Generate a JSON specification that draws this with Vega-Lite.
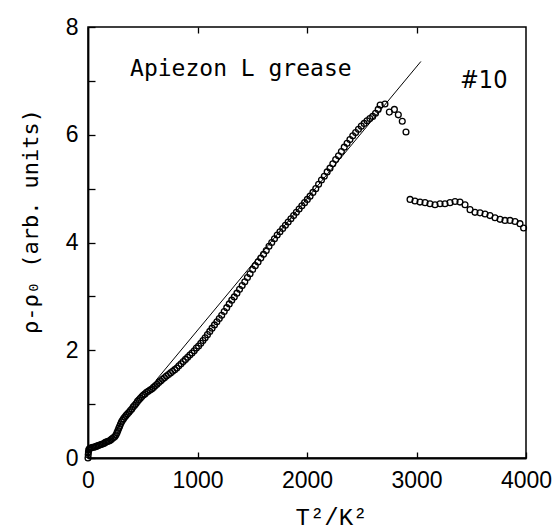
{
  "$schema": "https://vega.github.io/schema/vega-lite/v6.json",
  "width": 438,
  "height": 431,
  "autosize": {"type": "none"},
  "padding": {"left": 88, "top": 27, "right": 27, "bottom": 74},
  "background": "white",
  "config": {
    "view": {"stroke": "black", "strokeWidth": 1.5},
    "axis": {
      "domainColor": "black", "domainWidth": 1.8, "tickColor": "black", "tickWidth": 1.3,
      "labelColor": "black", "titleColor": "black", "grid": false,
      "labelFont": "Liberation Sans", "labelFontSize": 23
    }
  },
  "datasets": {
    "main": [
      {"T2": 0, "R": 0.0}, {"T2": 2, "R": 0.06}, {"T2": 4, "R": 0.11}, {"T2": 7, "R": 0.15}, {"T2": 12, "R": 0.17},
      {"T2": 20, "R": 0.18}, {"T2": 30, "R": 0.19}, {"T2": 42, "R": 0.2}, {"T2": 55, "R": 0.2}, {"T2": 68, "R": 0.21},
      {"T2": 80, "R": 0.22}, {"T2": 93, "R": 0.23}, {"T2": 106, "R": 0.24}, {"T2": 119, "R": 0.25}, {"T2": 132, "R": 0.26},
      {"T2": 145, "R": 0.27}, {"T2": 158, "R": 0.29}, {"T2": 171, "R": 0.3}, {"T2": 184, "R": 0.31}, {"T2": 197, "R": 0.32},
      {"T2": 210, "R": 0.34}, {"T2": 222, "R": 0.36}, {"T2": 234, "R": 0.38}, {"T2": 246, "R": 0.4}, {"T2": 256, "R": 0.43},
      {"T2": 265, "R": 0.47}, {"T2": 273, "R": 0.51}, {"T2": 281, "R": 0.55}, {"T2": 289, "R": 0.59}, {"T2": 297, "R": 0.63},
      {"T2": 306, "R": 0.67}, {"T2": 315, "R": 0.7}, {"T2": 325, "R": 0.73}, {"T2": 336, "R": 0.76}, {"T2": 348, "R": 0.79},
      {"T2": 361, "R": 0.82}, {"T2": 374, "R": 0.85}, {"T2": 387, "R": 0.88}, {"T2": 400, "R": 0.91}, {"T2": 413, "R": 0.95},
      {"T2": 426, "R": 0.98}, {"T2": 439, "R": 1.01}, {"T2": 452, "R": 1.05}, {"T2": 465, "R": 1.08}, {"T2": 478, "R": 1.11},
      {"T2": 492, "R": 1.14}, {"T2": 506, "R": 1.17}, {"T2": 520, "R": 1.19}, {"T2": 535, "R": 1.22}, {"T2": 550, "R": 1.24},
      {"T2": 566, "R": 1.26}, {"T2": 582, "R": 1.28}, {"T2": 598, "R": 1.31}, {"T2": 614, "R": 1.34}, {"T2": 630, "R": 1.37},
      {"T2": 646, "R": 1.4}, {"T2": 663, "R": 1.43}, {"T2": 680, "R": 1.46}, {"T2": 698, "R": 1.49}, {"T2": 716, "R": 1.52},
      {"T2": 735, "R": 1.55}, {"T2": 754, "R": 1.58}, {"T2": 773, "R": 1.61}, {"T2": 792, "R": 1.64}, {"T2": 811, "R": 1.67},
      {"T2": 830, "R": 1.71}, {"T2": 850, "R": 1.75}, {"T2": 870, "R": 1.79}, {"T2": 890, "R": 1.83}, {"T2": 910, "R": 1.87},
      {"T2": 930, "R": 1.91}, {"T2": 950, "R": 1.95}, {"T2": 970, "R": 1.99}, {"T2": 990, "R": 2.04}, {"T2": 1010, "R": 2.08},
      {"T2": 1030, "R": 2.13}, {"T2": 1050, "R": 2.18}, {"T2": 1070, "R": 2.23}, {"T2": 1091, "R": 2.29}, {"T2": 1112, "R": 2.35},
      {"T2": 1133, "R": 2.41}, {"T2": 1155, "R": 2.47}, {"T2": 1177, "R": 2.53}, {"T2": 1199, "R": 2.59}, {"T2": 1221, "R": 2.65},
      {"T2": 1244, "R": 2.72}, {"T2": 1267, "R": 2.79}, {"T2": 1290, "R": 2.86}, {"T2": 1313, "R": 2.93}, {"T2": 1336, "R": 2.99},
      {"T2": 1360, "R": 3.06}, {"T2": 1384, "R": 3.13}, {"T2": 1408, "R": 3.2}, {"T2": 1432, "R": 3.27}, {"T2": 1456, "R": 3.35},
      {"T2": 1480, "R": 3.42}, {"T2": 1504, "R": 3.5}, {"T2": 1528, "R": 3.57}, {"T2": 1553, "R": 3.64}, {"T2": 1578, "R": 3.71},
      {"T2": 1603, "R": 3.78}, {"T2": 1628, "R": 3.85}, {"T2": 1653, "R": 3.93}, {"T2": 1678, "R": 4.0}, {"T2": 1703, "R": 4.07},
      {"T2": 1728, "R": 4.14}, {"T2": 1753, "R": 4.2}, {"T2": 1778, "R": 4.26}, {"T2": 1803, "R": 4.32}, {"T2": 1828, "R": 4.38},
      {"T2": 1853, "R": 4.44}, {"T2": 1878, "R": 4.5}, {"T2": 1903, "R": 4.56}, {"T2": 1928, "R": 4.62}, {"T2": 1953, "R": 4.68},
      {"T2": 1978, "R": 4.74}, {"T2": 2003, "R": 4.8}, {"T2": 2028, "R": 4.86}, {"T2": 2054, "R": 4.93}, {"T2": 2080, "R": 5.0},
      {"T2": 2106, "R": 5.08}, {"T2": 2132, "R": 5.16}, {"T2": 2158, "R": 5.23}, {"T2": 2184, "R": 5.31}, {"T2": 2210, "R": 5.38},
      {"T2": 2236, "R": 5.46}, {"T2": 2262, "R": 5.54}, {"T2": 2288, "R": 5.61}, {"T2": 2314, "R": 5.69}, {"T2": 2340, "R": 5.77},
      {"T2": 2366, "R": 5.84}, {"T2": 2392, "R": 5.91}, {"T2": 2418, "R": 5.98}, {"T2": 2444, "R": 6.04}, {"T2": 2470, "R": 6.1},
      {"T2": 2496, "R": 6.16}, {"T2": 2522, "R": 6.21}, {"T2": 2548, "R": 6.26}, {"T2": 2574, "R": 6.3}, {"T2": 2600, "R": 6.34},
      {"T2": 2626, "R": 6.4}, {"T2": 2650, "R": 6.47}, {"T2": 2668, "R": 6.55}, {"T2": 2712, "R": 6.57}, {"T2": 2752, "R": 6.42},
      {"T2": 2798, "R": 6.47}, {"T2": 2834, "R": 6.37}, {"T2": 2870, "R": 6.25}, {"T2": 2904, "R": 6.05},
      {"T2": 2941, "R": 4.8}, {"T2": 2986, "R": 4.77}, {"T2": 3032, "R": 4.75}, {"T2": 3078, "R": 4.74}, {"T2": 3123, "R": 4.72},
      {"T2": 3169, "R": 4.7}, {"T2": 3215, "R": 4.72}, {"T2": 3260, "R": 4.72}, {"T2": 3306, "R": 4.74}, {"T2": 3352, "R": 4.76},
      {"T2": 3397, "R": 4.75}, {"T2": 3443, "R": 4.7}, {"T2": 3489, "R": 4.61}, {"T2": 3534, "R": 4.56}, {"T2": 3580, "R": 4.55},
      {"T2": 3626, "R": 4.53}, {"T2": 3671, "R": 4.5}, {"T2": 3717, "R": 4.46}, {"T2": 3763, "R": 4.43}, {"T2": 3808, "R": 4.41},
      {"T2": 3854, "R": 4.41}, {"T2": 3900, "R": 4.39}, {"T2": 3945, "R": 4.35}, {"T2": 3978, "R": 4.27}
    ],
    "fit": [{"T2": 620, "R": 1.44}, {"T2": 3040, "R": 7.36}],
    "label_a": [{"T2": 384, "R": 7.09, "text": "Apiezon L grease"}],
    "label_b": [{"T2": 3397, "R": 6.86, "text": "#10"}]
  },
  "resolve": {"axis": {"x": "independent", "y": "independent"}},
  "layer": [
    {
      "data": {"name": "main"},
      "mark": {"type": "point", "shape": "circle", "filled": false, "color": "black", "size": 34, "strokeWidth": 1.3, "opacity": 1},
      "encoding": {
        "x": {
          "field": "T2", "type": "quantitative",
          "scale": {"domain": [0, 4000], "nice": false, "zero": true},
          "axis": {
            "orient": "bottom", "values": [0, 1000, 2000, 3000, 4000], "format": "d", "tickSize": -6, "labelPadding": 17,
            "labelFlush": false, "labelOverlap": false,
            "title": "T²/K²", "titleFont": "Liberation Mono", "titleFontSize": 24, "titleFontWeight": "normal",
            "titleX": 243, "titleY": 66, "titleBaseline": "alphabetic", "titleAlign": "center"
          }
        },
        "y": {
          "field": "R", "type": "quantitative",
          "scale": {"domain": [0, 8], "nice": false, "zero": true},
          "axis": {
            "orient": "left", "values": [0, 1, 2, 3, 4, 5, 6, 7, 8], "tickSize": -7, "labelPadding": 17,
            "labelExpr": "datum.value % 2 == 0 ? datum.label : ''", "labelFlush": false, "labelOverlap": false,
            "title": "ρ-ρ₀ (arb. units)", "titleFont": "DejaVu Sans Mono", "titleFontSize": 22, "titleFontWeight": "normal",
            "titleX": -51, "titleY": 194, "titleAngle": -90, "titleBaseline": "alphabetic", "titleAlign": "center"
          }
        }
      }
    },
    {
      "data": {"name": "fit"},
      "mark": {"type": "line", "color": "black", "strokeWidth": 1},
      "encoding": {
        "x": {
          "field": "T2", "type": "quantitative",
          "scale": {"domain": [0, 4000], "nice": false},
          "axis": {"orient": "top", "values": [1000, 2000, 3000], "tickSize": -6, "labels": false, "title": null, "domain": false}
        },
        "y": {
          "field": "R", "type": "quantitative",
          "scale": {"domain": [0, 8], "nice": false},
          "axis": {"orient": "right", "labels": false, "ticks": false, "title": null, "domain": false}
        }
      }
    },
    {
      "data": {"name": "label_a"},
      "mark": {"type": "text", "align": "left", "baseline": "alphabetic", "color": "black", "font": "DejaVu Sans Mono", "fontSize": 23},
      "encoding": {
        "x": {"field": "T2", "type": "quantitative", "axis": null},
        "y": {"field": "R", "type": "quantitative", "axis": null},
        "text": {"field": "text"}
      }
    },
    {
      "data": {"name": "label_b"},
      "mark": {"type": "text", "align": "left", "baseline": "alphabetic", "color": "black", "font": "Liberation Sans Narrow, DejaVu Sans Condensed, Liberation Sans", "fontSize": 25},
      "encoding": {
        "x": {"field": "T2", "type": "quantitative", "axis": null},
        "y": {"field": "R", "type": "quantitative", "axis": null},
        "text": {"field": "text"}
      }
    }
  ]
}
